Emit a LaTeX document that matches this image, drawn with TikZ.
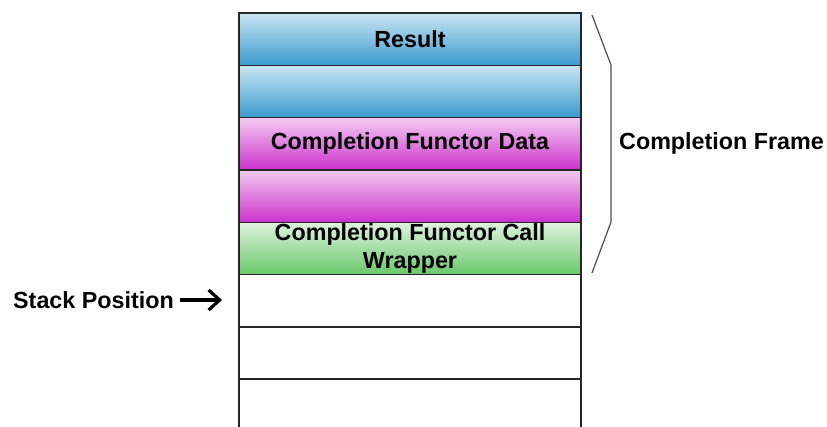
\documentclass[tikz,border=0pt]{standalone}
\usepackage{fontspec}
\setmainfont{Liberation Sans}
\usetikzlibrary{arrows.meta}
\definecolor{bluetop}{RGB}{202,229,243}
\definecolor{bluebot}{RGB}{58,154,205}
\definecolor{magtop}{RGB}{243,202,241}
\definecolor{magbot}{RGB}{204,50,204}
\definecolor{grntop}{RGB}{222,243,222}
\definecolor{grnbot}{RGB}{106,199,106}
\tikzset{
  rowbox/.style={draw=black!85, line width=1.4pt, minimum width=342pt, minimum height=52.3pt,
    inner sep=0pt, outer sep=0pt, anchor=north west, align=center,
    font=\fontsize{23.3pt}{28pt}\selectfont\bfseries},
  bluebox/.style={rowbox, top color=bluetop, bottom color=bluebot},
  magbox/.style={rowbox, top color=magtop, bottom color=magbot},
  grnbox/.style={rowbox, top color=grntop, bottom color=grnbot},
  whitebox/.style={rowbox, fill=white},
  lbl/.style={font=\fontsize{23.3pt}{28pt}\selectfont\bfseries, inner sep=0pt},
  bracel/.style={draw=black!70, line width=1.2pt}
}
\begin{document}
\begin{tikzpicture}[x=1pt,y=-1pt]
\useasboundingbox (0,0) rectangle (827,426);
\node[bluebox] (r1) at (239,13) {Result};
\node[bluebox] (r2) at (239,65.3) {};
\node[magbox] (r3) at (239,117.6) {Completion Functor Data};
\node[magbox] (r4) at (239,169.9) {};
\node[grnbox] (r5) at (239,222.2) {Completion Functor Call\\Wrapper};
\node[whitebox] (r6) at (239,274.5) {};
\node[whitebox] (r7) at (239,326.8) {};
% bottom open row
\coordinate (b1) at (239,427);
\coordinate (b2) at (581,427);
\draw[black!85, line width=1.4pt] (r7.south west) -- (b1);
\draw[black!85, line width=1.4pt] (r7.south east) -- (b2);
% brace
\coordinate (c1) at (592,15);
\coordinate (c2) at (611,65);
\coordinate (c3) at (611,222);
\coordinate (c4) at (592,273);
\draw[bracel] (c1) -- (c2) -- (c3) -- (c4);
\node[lbl, anchor=west] (cf) at (619,143) {Completion Frame};
% stack position
\node[lbl, anchor=west] (sp) at (13,300) {Stack Position};
\draw[line width=3.2pt, -{Straight Barb[length=11pt,width=20pt]}, shorten <=6pt, shorten >=17pt]
  (sp.east) -- (sp.east -| r6.west);
\end{tikzpicture}
\end{document}
